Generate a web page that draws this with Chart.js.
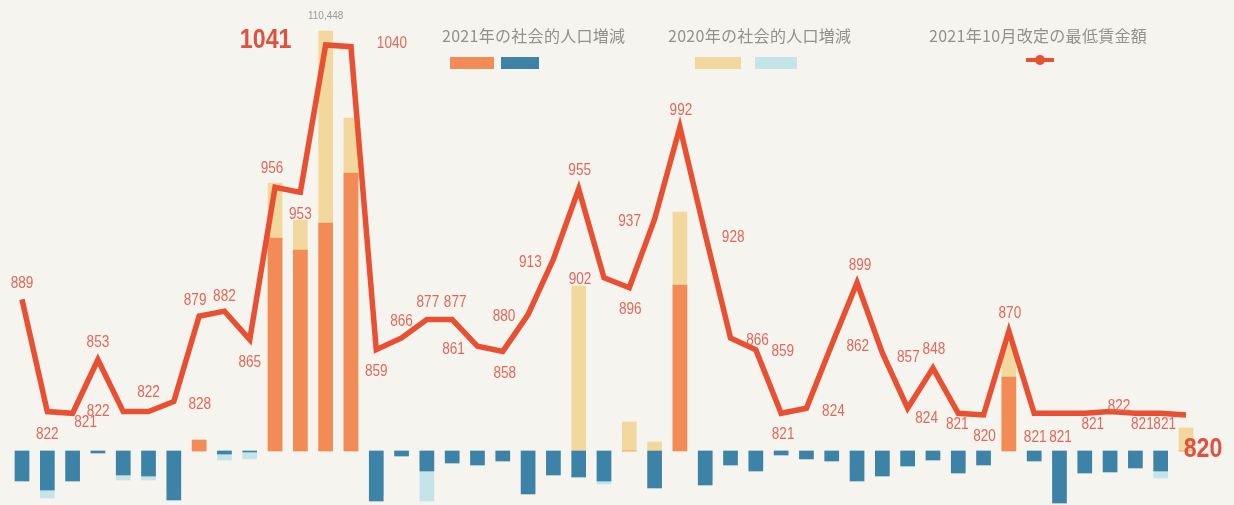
<!DOCTYPE html>
<html lang="ja">
<head>
<meta charset="utf-8">
<script src="https://cdn.jsdelivr.net/npm/chart.js@4.4.1/dist/chart.umd.min.js"></script>
<style>
	html, body { margin: 0; padding: 0; background: #f5f4ef; }
	#wrap { position: relative; width: 1234px; height: 505px; overflow: hidden; }
	#wrap canvas { position: absolute; left: 0; top: 0; }
	.key { position: absolute; font: 16px "Noto Sans CJK JP", sans-serif; color: #939190; white-space: nowrap; line-height: 20px; letter-spacing: 0.3px; }
	.sw { position: absolute; height: 12px; }
</style>
</head>
<body>
<div id="wrap">
	<canvas id="graph" width="1234" height="505"></canvas>

	<div class="key" style="left:442px; top:25px;">2021年の社会的人口増減</div>
	<div class="sw" style="left:450px; top:57px; width:44px; background:#f28b56;"></div>
	<div class="sw" style="left:501px; top:57px; width:38px; background:#3d82a7;"></div>

	<div class="key" style="left:668px; top:25px;">2020年の社会的人口増減</div>
	<div class="sw" style="left:695px; top:57px; width:46px; background:#f2d89c;"></div>
	<div class="sw" style="left:755px; top:57px; width:42px; background:#c4e4e8;"></div>

	<div class="key" style="left:929px; top:25px;">2021年10月改定の最低賃金額</div>
	<div style="position:absolute; left:1026px; top:58px; width:28px; height:4px; background:#e94f31;"></div>
	<div style="position:absolute; left:1035px; top:55px; width:10px; height:10px; border-radius:5px; background:#e94f31;"></div>
</div>

<script>
"use strict";

// prefectures, in the order plotted
const prefectures = [
	"北海道", "青森", "岩手", "宮城", "秋田", "山形", "福島", "茨城", "栃木", "群馬",
	"埼玉", "千葉", "東京", "神奈川", "新潟", "山梨", "長野", "富山", "石川", "福井",
	"岐阜", "静岡", "愛知", "三重", "滋賀", "京都", "大阪", "兵庫", "奈良", "和歌山",
	"鳥取", "島根", "岡山", "広島", "山口", "徳島", "香川", "愛媛", "高知", "福岡",
	"佐賀", "長崎", "熊本", "大分", "宮崎", "鹿児島", "沖縄"
]

// minimum wage from Oct 2021 (yen / hour)
const min_wage_2021 = [
	889, 822, 821, 853, 822, 822, 828, 879, 882, 865,
	956, 953, 1041, 1040, 859, 866, 877, 877, 861, 858,
	880, 913, 955, 902, 896, 937, 992, 928, 866, 859,
	821, 824, 862, 899, 857, 824, 848, 821, 820, 870,
	821, 821, 821, 822, 821, 821, 820
]

// net migration (people)
const social_change_2021 = [
	-7890, -10260, -7890, -530, -6310, -6580, -12890, 2890, -790, -260,
	56020, 52860, 59960, 73110, -13150, -1320, -5260, -3160, -3680, -2630,
	-11310, -6310, -6840, -7890, 0, -9730, 43660, -8940, -3680, -5260,
	-1050, -2100, -2630, -7890, -6580, -3950, -2370, -5790, -3680, 19460,
	-2630, -13680, -5790, -5520, -4470, -5260, 0
]

const social_change_2020 = [
	-6840, -12360, -6840, -260, -7630, -7630, -10520, 2100, -2370, -2100,
	70480, 60750, 110448, 87580, -11570, -790, -13150, -2100, -2630, -2100,
	-9990, -5260, 43400, -8680, 7630, 2370, 62860, -7360, -2630, -4210,
	-790, -1580, -2100, -6840, -5790, -3160, -1580, -4730, -2630, 27880,
	-2100, -11840, -4730, -4470, -3680, -7100, 6050
]

// where each wage label sits relative to its point [dx, dy]
const label_offsets = [
	[0,-16], [0,23], [13,9], [0,-17], [-25,0], [0,-19], [26,3], [-4,-16], [0,-15], [0,23],
	[-3,-19], [0,22], [-60,-4], [41,-3], [0,22], [0,-17], [1,-17], [3,-17], [-24,3], [2,22],
	[-24,2], [-23,3], [1,-19], [-24,2], [1,22], [-25,2], [1,-17], [28,3], [27,2], [27,2],
	[2,21], [27,3], [26,2], [3,-17], [26,4], [19,10], [1,-19], [-1,11], [1,21], [1,-18],
	[1,24], [1,24], [8,11], [9,-5], [7,11], [4,11], [17,35]
]
const big_labels = [12, 46]

const ORANGE = "#f28b56"
const BLUE   = "#3d82a7"
const YELLOW = "#f2d89c"
const CYAN   = "#c4e4e8"
const RED    = "#e94f31"

// condensed-looking text: squeeze horizontally around the anchor
function narrow_text(ctx, text, x, y, squeeze) {
	ctx.save()
	ctx.translate(x, y)
	ctx.scale(squeeze, 1)
	ctx.fillText(text, 0, 0)
	ctx.restore()
}

// wage labels + the clipped Tokyo bar value
const value_labels = {
	id: "value_labels",
	afterDatasetsDraw(chart) {
		const ctx = chart.ctx
		const pts = chart.getDatasetMeta(0).data
		ctx.save()
		ctx.textAlign = "center"
		ctx.textBaseline = "middle"
		pts.forEach((pt, i) => {
			const big = big_labels.includes(i)
			const off = label_offsets[i]
			ctx.fillStyle = big ? "#e2503e" : "#e4685a"
			ctx.font = big
				? "bold 27px 'Liberation Sans', sans-serif"
				: "17px 'Liberation Sans', sans-serif"
			narrow_text(ctx, String(min_wage_2021[i]), pt.x + off[0], pt.y + off[1], big ? 0.86 : 0.8)
		})

		// top bar value
		const bars = chart.getDatasetMeta(2).data
		let top = 0
		social_change_2020.forEach((v, i) => { if (v > social_change_2020[top]) top = i })
		ctx.fillStyle = "#9b9a97"
		ctx.font = "10px 'Liberation Sans', sans-serif"
		ctx.fillText(social_change_2020[top].toLocaleString("en-US"), bars[top].x, bars[top].y - 15)
		ctx.restore()
	}
}

const sign_color = (pos, neg) => (c) => (c.raw >= 0 ? pos : neg)

new Chart(document.getElementById("graph"), {
	type: "bar",
	data: {
		labels: prefectures,
		datasets: [
			{
				type: "line",
				label: "2021年10月改定の最低賃金額",
				data: min_wage_2021,
				yAxisID: "yw",
				borderColor: RED,
				borderWidth: 5.5,
				borderJoinStyle: "miter",
				pointRadius: 0,
				tension: 0,
				clip: false,
				order: 0
			},
			{
				label: "2021年の社会的人口増減",
				data: social_change_2021,
				yAxisID: "yp",
				backgroundColor: sign_color(ORANGE, BLUE),
				grouped: false,
				barThickness: 14,
				clip: false,
				order: 1
			},
			{
				label: "2020年の社会的人口増減",
				data: social_change_2020,
				yAxisID: "yp",
				backgroundColor: sign_color(YELLOW, CYAN),
				grouped: false,
				barThickness: 14,
				clip: false,
				order: 2
			}
		]
	},
	options: {
		responsive: false,
		animation: false,
		layout: {
			padding: { left: 9.35, right: 35.35, top: 0, bottom: 0 }
		},
		scales: {
			x:  { display: false, offset: true },
			yw: { display: false, min: 766.2, max: 1067.9 },
			yp: { display: false, min: -14202, max: 118613 }
		},
		plugins: {
			legend: { display: false },
			tooltip: { enabled: false }
		}
	},
	plugins: [value_labels]
})
</script>
</body>
</html>
